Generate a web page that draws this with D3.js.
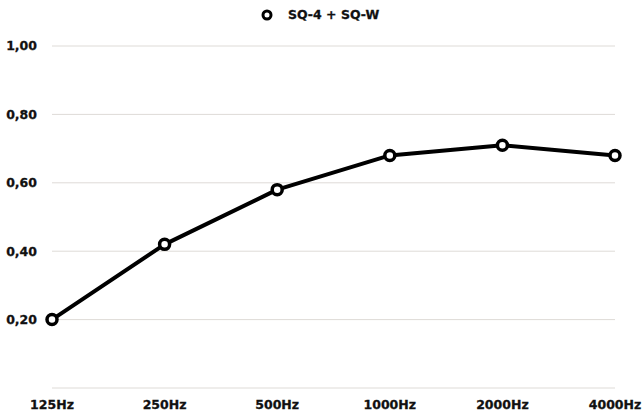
<!DOCTYPE html>
<html><head><meta charset="utf-8">
<script src="https://cdn.jsdelivr.net/npm/d3@7"></script>
<style>body{margin:0;background:#fff}svg{display:block}text{font-family:"DejaVu Sans",sans-serif;font-weight:bold;fill:#111}</style>
</head><body><svg id="c" width="644" height="412"></svg>
<script>
const categories=["125Hz","250Hz","500Hz","1000Hz","2000Hz","4000Hz"];
const values=[0.20,0.42,0.58,0.68,0.71,0.68];
const yTicks=[0,0.2,0.4,0.6,0.8,1.0];
const seriesName="SQ-4 + SQ-W";
const svg=d3.select("#c");
const x=d3.scalePoint().domain(categories).range([52,615]);
const y=d3.scaleLinear().domain([0,1]).range([388,46]);
const fmt=d=>d3.format(".2f")(d).replace(".",",");
svg.append("g").selectAll("line").data(yTicks).join("line")
 .attr("x1",52).attr("x2",615).attr("y1",d=>y(d)).attr("y2",d=>y(d))
 .attr("stroke","#dedbd7").attr("stroke-width",1);
svg.append("g").selectAll("text").data(yTicks.filter(d=>d>0)).join("text")
 .attr("x",37).attr("y",d=>y(d)).attr("dy","0.35em").attr("text-anchor","end")
 .attr("font-size",12.5).attr("stroke","#111").attr("stroke-width",0.3).text(fmt);
svg.append("g").selectAll("text").data(categories).join("text")
 .attr("x",d=>x(d)).attr("y",405).attr("dy","0.35em").attr("text-anchor","middle")
 .attr("font-size",12.5).attr("stroke","#111").attr("stroke-width",0.3).text(d=>d);
const line=d3.line().x((d,i)=>x(categories[i])).y(d=>y(d));
svg.append("path").datum(values).attr("d",line).attr("fill","none")
 .attr("stroke","#000").attr("stroke-width",4).attr("stroke-linejoin","round");
svg.append("g").selectAll("circle").data(values).join("circle")
 .attr("cx",(d,i)=>x(categories[i])).attr("cy",d=>y(d)).attr("r",5)
 .attr("fill","#fff").attr("stroke","#000").attr("stroke-width",3.5);
const lg=svg.append("g");
lg.append("circle").attr("cx",267).attr("cy",15).attr("r",4).attr("fill","#fff").attr("stroke","#000").attr("stroke-width",3);
lg.append("text").attr("x",288).attr("y",15).attr("dy","0.35em").attr("font-size",12.5).attr("stroke","#111").attr("stroke-width",0.3).text(seriesName);
</script></body></html>
